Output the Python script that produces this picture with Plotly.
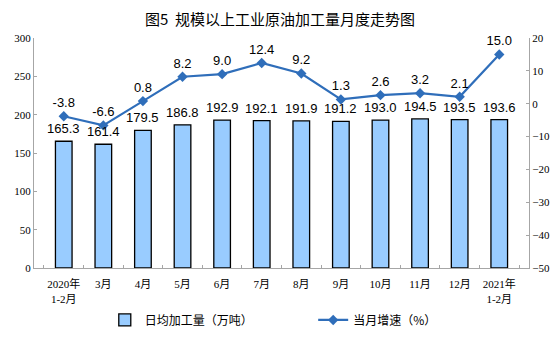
import plotly.graph_objects as go

categories = ["2020年<br>1-2月", "3月", "4月", "5月", "6月", "7月", "8月", "9月", "10月", "11月", "12月", "2021年<br>1-2月"]
daily_output = [165.3, 161.4, 179.5, 186.8, 192.9, 192.1, 191.9, 191.2, 193.0, 194.5, 193.5, 193.6]
growth = [-3.8, -6.6, 0.8, 8.2, 9.0, 12.4, 9.2, 1.3, 2.6, 3.2, 2.1, 15.0]

label_font = dict(family="Liberation Sans, Arial", size=13, color="#000000")
tick_font = dict(family="Liberation Serif, Times New Roman", size=11, color="#000000")

fig = go.Figure()
fig.add_trace(go.Bar(
    x=categories, y=daily_output, name="日均加工量（万吨）",
    marker=dict(color="#99CCFF", line=dict(color="#000000", width=1.3)),
    legend="legend",
))
for c, v in zip(categories, daily_output):
    fig.add_annotation(x=c, y=v, xref="x", yref="y", text=f"{v:.1f}", showarrow=False,
                       yanchor="bottom", yshift=3, font=label_font)
fig.add_trace(go.Scatter(
    x=categories, y=growth, name="当月增速（%）", yaxis="y2",
    mode="lines+markers+text",
    line=dict(color="#2F6EBA", width=2.2),
    marker=dict(symbol="diamond", size=8, color="#2F6EBA"),
    text=[f"{v:.1f}" for v in growth], textposition="top center",
    textfont=label_font, cliponaxis=False, legend="legend2",
))

fig.update_layout(
    width=560, height=352,
    margin=dict(l=34, r=31, t=38, b=84, autoexpand=False),
    paper_bgcolor="white", plot_bgcolor="white",
    title=dict(text="图5  规模以上工业原油加工量月度走势图", x=0.5, xanchor="center", y=0.945, yanchor="middle",
               font=dict(family="Noto Sans CJK SC", size=15, color="#000000")),
    bargap=0.58,
    xaxis=dict(showline=True, linecolor="#A6A6A6", linewidth=1, ticks="inside", tickson="boundaries",
               ticklen=3, tickcolor="#A6A6A6", showgrid=False, ticklabelstandoff=6, tickangle=0,
               tickfont=dict(family="Liberation Serif, Noto Sans CJK SC", size=11, color="#000000")),
    yaxis=dict(range=[0, 300], dtick=50, showline=True, linecolor="#A6A6A6", linewidth=1,
               ticks="inside", ticklen=3, tickcolor="#A6A6A6", showgrid=False, tickfont=tick_font,
               zeroline=False),
    yaxis2=dict(range=[-50, 20], dtick=10, overlaying="y", side="right", showline=True,
                linecolor="#A6A6A6", linewidth=1, ticks="inside", ticklen=3, tickcolor="#A6A6A6",
                showgrid=False, zeroline=False, tickfont=tick_font),
    legend=dict(orientation="h", x=0.143, xanchor="left", yref="container", y=0.091, yanchor="middle",
                font=dict(family="Noto Sans CJK SC", size=12, color="#000000"), bgcolor="rgba(0,0,0,0)"),
    legend2=dict(orientation="h", x=0.564, xanchor="left", yref="container", y=0.091, yanchor="middle",
                 font=dict(family="Noto Sans CJK SC", size=12, color="#000000"), bgcolor="rgba(0,0,0,0)"),
    showlegend=True,
)

fig.write_html("out.html")
